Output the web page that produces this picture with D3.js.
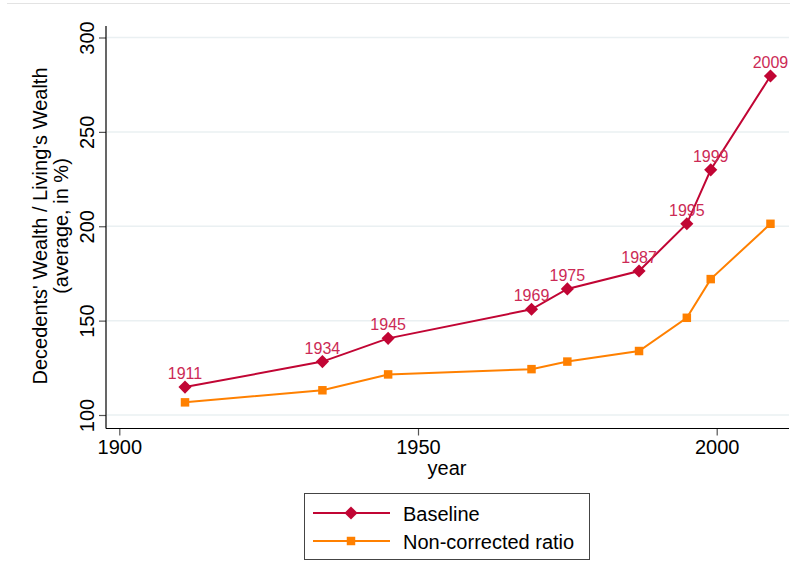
<!DOCTYPE html>
<html>
<head>
<meta charset="utf-8">
<script src="https://cdn.jsdelivr.net/npm/d3@7"></script>
<style>
  body { margin: 0; background: #fff; }
  svg { display: block; font-family: "Liberation Sans", Arial, sans-serif; }
</style>
</head>
<body>
<svg id="chart" width="796" height="582"></svg>
<script>
const years = [1911, 1934, 1945, 1969, 1975, 1987, 1995, 1999, 2009];
const baseline = [114.8, 128.3, 140.6, 156.0, 166.8, 176.3, 201.3, 229.9, 279.6];
const nonCorrected = [106.7, 113.1, 121.5, 124.3, 128.3, 133.9, 151.5, 172.0, 201.3];
const xTicks = [1900, 1950, 2000];
const yTicks = [100, 150, 200, 250, 300];
const seriesNames = ["Baseline", "Non-corrected ratio"];

const red = "#c10534", orange = "#ff8000", labelColor = "#cc2a55";
const svg = d3.select("#chart");

const x = d3.scaleLinear().domain([1900, 2000]).range([119.3, 716.7]);
const y = d3.scaleLinear().domain([100, 300]).range([415, 37.5]);
const plotL = 106, plotR = 789, axisY = 428.5, axisTop = 26;

// top border line
svg.append("line").attr("x1", 7).attr("x2", 790).attr("y1", 3.5).attr("y2", 3.5)
  .attr("stroke", "#e3e3e3").attr("stroke-width", 1);

// gridlines
svg.append("g").selectAll("line").data(yTicks).join("line")
  .attr("x1", plotL + 1).attr("x2", plotR)
  .attr("y1", d => y(d)).attr("y2", d => y(d))
  .attr("stroke", "#eaf0f2").attr("stroke-width", 1.5);

// y axis
const yAxis = svg.append("g").attr("transform", `translate(${plotL},0)`)
  .call(d3.axisLeft(y).tickValues(yTicks).tickSize(7).tickSizeOuter(0).tickFormat(d3.format("d")));
yAxis.select(".domain").remove();
yAxis.append("line").attr("x1", 0).attr("x2", 0).attr("y1", axisTop).attr("y2", axisY).attr("stroke", "#000").attr("stroke-width", 1.2);
yAxis.selectAll(".tick line").attr("stroke", "#555").attr("stroke-width", 1.2);
yAxis.selectAll(".tick text")
  .attr("x", null).attr("dy", null)
  .attr("transform", "translate(-12,0) rotate(-90)")
  .attr("text-anchor", "middle")
  .attr("font-size", 20).attr("fill", "#000")
  .attr("font-family", "Liberation Sans, Arial, sans-serif");

// x axis
const xAxis = svg.append("g").attr("transform", `translate(0,${axisY})`)
  .call(d3.axisBottom(x).tickValues(xTicks).tickSize(7).tickSizeOuter(0).tickFormat(d3.format("d")));
xAxis.select(".domain").remove();
xAxis.append("line").attr("x1", plotL).attr("x2", plotR + 0).attr("y1", 0).attr("y2", 0).attr("stroke", "#000").attr("stroke-width", 1.2);
xAxis.selectAll(".tick line").attr("stroke", "#555").attr("stroke-width", 1.2);
xAxis.selectAll(".tick text").attr("y", 11).attr("dy", "0.71em")
  .attr("font-size", 20).attr("fill", "#000")
  .attr("font-family", "Liberation Sans, Arial, sans-serif");

// axis titles
svg.append("text").attr("x", 447).attr("y", 475).attr("text-anchor", "middle")
  .attr("font-size", 20).text("year");
svg.append("text").attr("transform", "translate(47,226) rotate(-90)").attr("text-anchor", "middle")
  .attr("font-size", 20).text("Decedents' Wealth / Living's Wealth");
svg.append("text").attr("transform", "translate(68,226) rotate(-90)").attr("text-anchor", "middle")
  .attr("font-size", 20).text("(average, in %)");

// lines
const line = d3.line().x(d => x(d[0])).y(d => y(d[1]));
const bData = years.map((yr, i) => [yr, baseline[i]]);
const oData = years.map((yr, i) => [yr, nonCorrected[i]]);

svg.append("path").datum(oData).attr("d", line).attr("fill", "none").attr("stroke", orange).attr("stroke-width", 2);
svg.append("path").datum(bData).attr("d", line).attr("fill", "none").attr("stroke", red).attr("stroke-width", 2);

const diamond = d3.symbol().type(d3.symbolDiamond2).size(110);
const square = d3.symbol().type(d3.symbolSquare).size(72);

svg.append("g").selectAll("path").data(oData).join("path")
  .attr("d", square).attr("transform", d => `translate(${x(d[0])},${y(d[1])})`).attr("fill", orange);
svg.append("g").selectAll("path").data(bData).join("path")
  .attr("d", diamond).attr("transform", d => `translate(${x(d[0])},${y(d[1])})`).attr("fill", red);

// point labels
svg.append("g").selectAll("text").data(bData).join("text")
  .attr("x", d => x(d[0])).attr("y", d => y(d[1]) - 8)
  .attr("text-anchor", "middle").attr("font-size", 16).attr("fill", labelColor)
  .text(d => d[0]);

// legend
const lg = svg.append("g");
lg.append("rect").attr("x", 304.5).attr("y", 493.5).attr("width", 285).attr("height", 66)
  .attr("fill", "#fff").attr("stroke", "#444").attr("stroke-width", 1);
const rows = [{name: seriesNames[0], color: red, sym: diamond, yy: 513},
              {name: seriesNames[1], color: orange, sym: square, yy: 541}];
rows.forEach(r => {
  lg.append("line").attr("x1", 313).attr("x2", 390).attr("y1", r.yy).attr("y2", r.yy)
    .attr("stroke", r.color).attr("stroke-width", 2);
  lg.append("path").attr("d", r.sym).attr("transform", `translate(351,${r.yy})`).attr("fill", r.color);
  lg.append("text").attr("x", 403).attr("y", r.yy + 7.5).attr("font-size", 20).text(r.name);
});
</script>
</body>
</html>
